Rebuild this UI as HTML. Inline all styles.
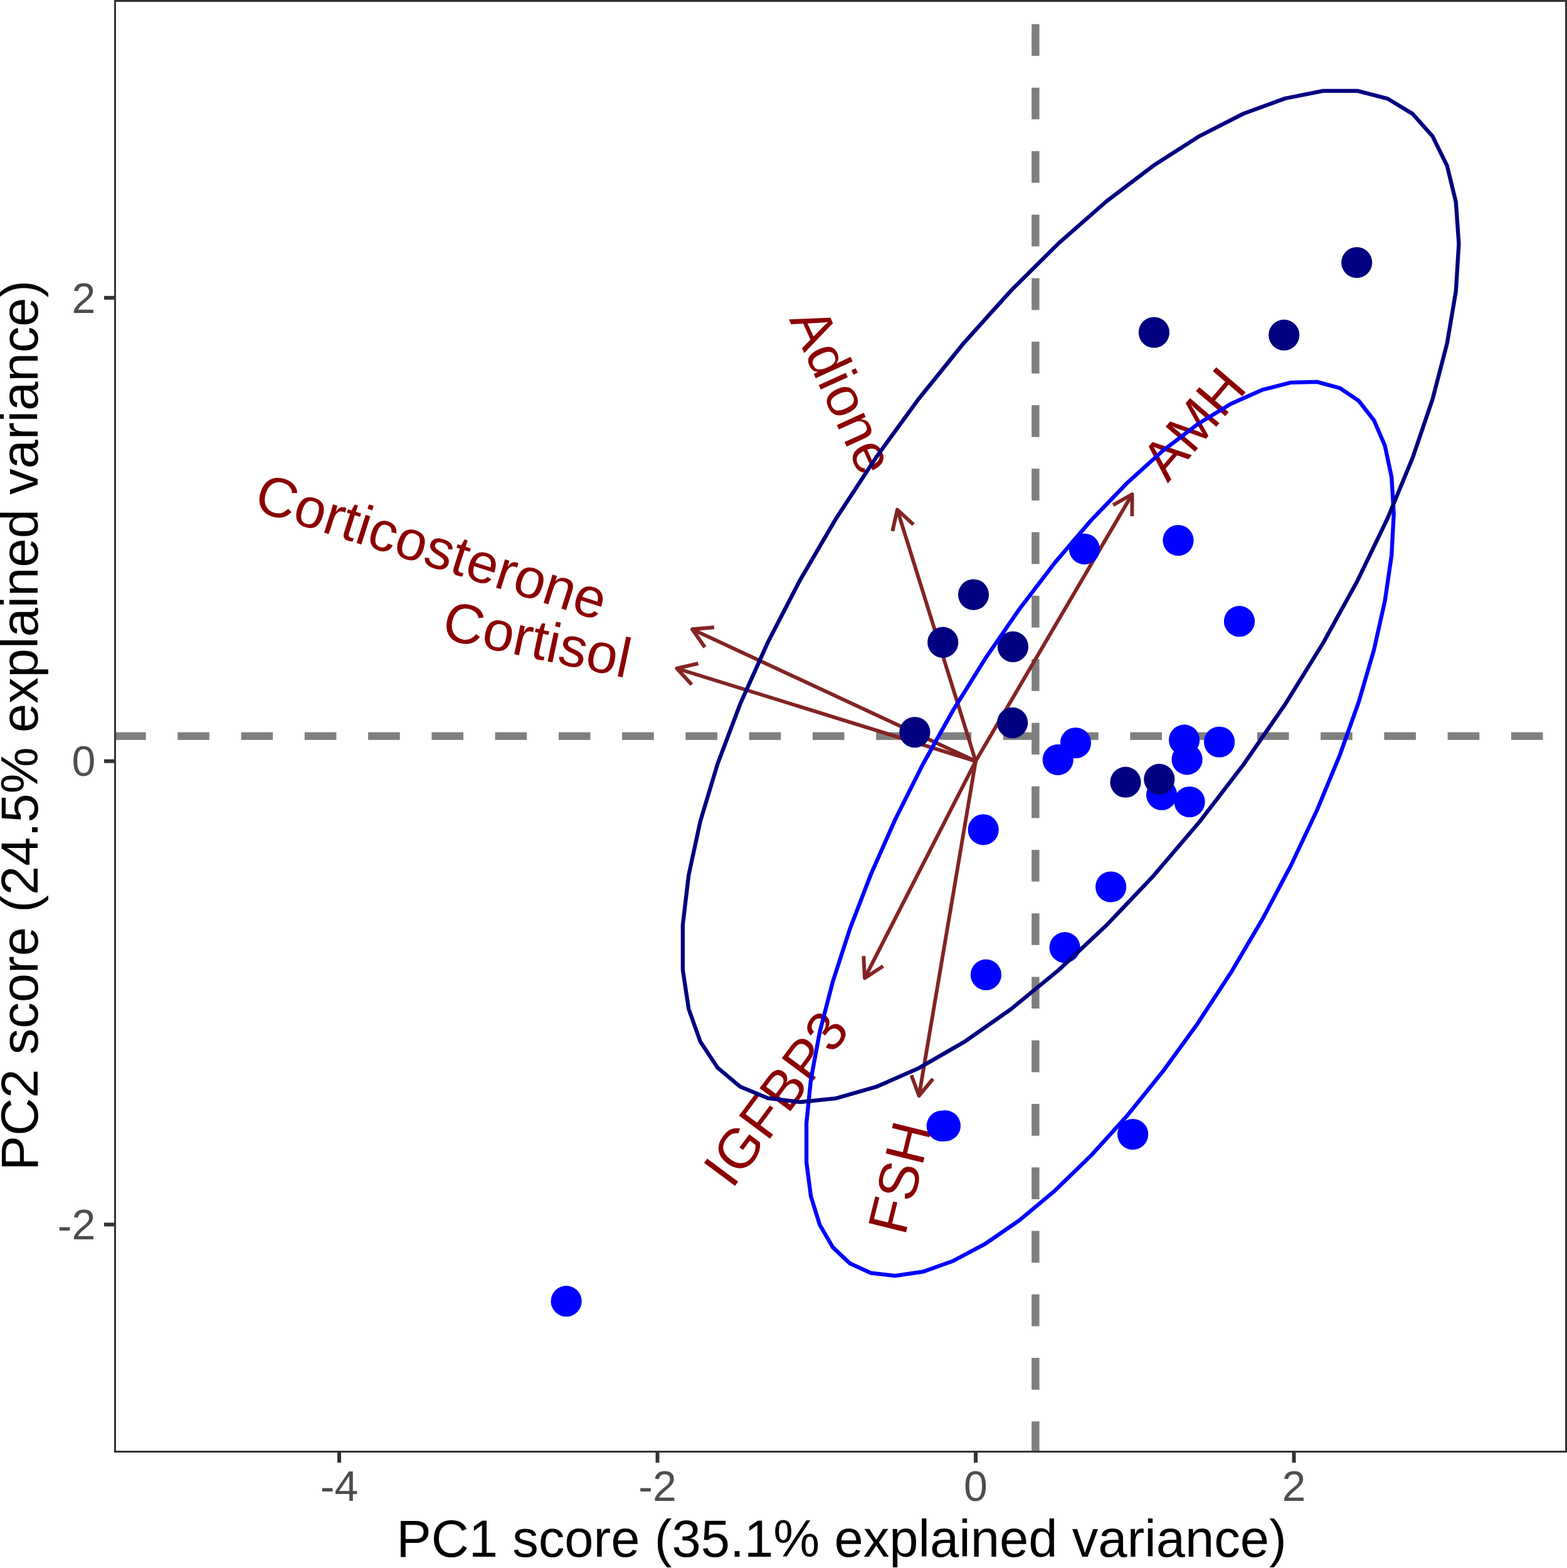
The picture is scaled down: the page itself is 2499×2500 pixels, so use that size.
<!DOCTYPE html><html><head><meta charset="utf-8"><title>PCA biplot</title><style>html,body{margin:0;padding:0;background:#fff;}svg{display:block;}text{font-family:"Liberation Sans",Arial,Helvetica,sans-serif;}</style></head><body>
<svg xmlns="http://www.w3.org/2000/svg" width="2499" height="2500" viewBox="0 0 2499 2500">
<rect width="2499" height="2500" fill="#fff"/>
<defs><clipPath id="pc"><rect x="182" y="0" width="2317" height="2316"/></clipPath></defs>
<g clip-path="url(#pc)">
<path d="M1651.40,2317.00V2266.36M1651.40,2215.73V2165.09M1651.40,2114.46V2063.82M1651.40,2013.19V1962.55M1651.40,1911.92V1861.28M1651.40,1810.65V1760.01M1651.40,1709.38V1658.74M1651.40,1608.11V1557.47M1651.40,1506.84V1456.20M1651.40,1405.57V1354.93M1651.40,1304.30V1253.66M1651.40,1203.03V1152.39M1651.40,1101.76V1051.12M1651.40,1000.49V949.85M1651.40,899.22V848.58M1651.40,797.95V747.31M1651.40,696.68V646.04M1651.40,595.41V544.77M1651.40,494.14V443.50M1651.40,392.87V342.23M1651.40,291.60V240.96M1651.40,190.33V139.69M1651.40,89.06V38.42" stroke="#7f7f7f" stroke-width="12.4" fill="none"/>
<path d="M182.00,1173.60H232.63M283.27,1173.60H333.90M384.54,1173.60H435.17M485.81,1173.60H536.44M587.08,1173.60H637.71M688.35,1173.60H738.98M789.62,1173.60H840.25M890.89,1173.60H941.52M992.16,1173.60H1042.79M1093.43,1173.60H1144.06M1194.70,1173.60H1245.33M1295.97,1173.60H1346.60M1397.24,1173.60H1447.87M1498.51,1173.60H1549.14M1599.78,1173.60H1650.41M1701.05,1173.60H1751.68M1802.32,1173.60H1852.95M1903.59,1173.60H1954.22M2004.86,1173.60H2055.49M2106.13,1173.60H2156.77M2207.40,1173.60H2258.04M2308.67,1173.60H2359.31M2409.94,1173.60H2460.58" stroke="#7f7f7f" stroke-width="12.4" fill="none"/>
<g stroke="#832424" stroke-width="5.9" fill="none" stroke-linejoin="round" stroke-linecap="butt">
<line x1="1556.00" y1="1213.60" x2="1431.00" y2="812.60"/>
<polyline points="1423.31,846.75 1431.00,812.60 1456.73,836.33"/>
<line x1="1556.00" y1="1213.60" x2="1805.60" y2="788.00"/>
<polyline points="1775.17,805.29 1805.60,788.00 1805.36,823.00"/>
<line x1="1556.00" y1="1213.60" x2="1104.00" y2="1003.30"/>
<polyline points="1124.10,1031.95 1104.00,1003.30 1138.86,1000.22"/>
<line x1="1556.00" y1="1213.60" x2="1079.40" y2="1065.70"/>
<polyline points="1103.16,1091.40 1079.40,1065.70 1113.54,1057.97"/>
<line x1="1556.00" y1="1213.60" x2="1379.00" y2="1559.40"/>
<polyline points="1408.39,1540.39 1379.00,1559.40 1377.23,1524.44"/>
<line x1="1556.00" y1="1213.60" x2="1465.60" y2="1747.00"/>
<polyline points="1487.92,1720.04 1465.60,1747.00 1453.41,1714.19"/>
</g>
<g fill="#8B0000" font-size="89.4">
<text transform="translate(1431.00,812.60) rotate(65.592)" x="-347.96" y="32.01">Adione</text>
<text transform="translate(1805.60,788.00) rotate(-49.511)" x="49.67" y="32.01">AMH</text>
<text transform="translate(1104.00,1003.30) rotate(17.724)" x="-726.70" y="32.01">Corticosterone</text>
<text transform="translate(1079.40,1065.70) rotate(12.034)" x="-378.79" y="32.01">Cortisol</text>
<text transform="translate(1379.00,1559.40) rotate(-53.309)" x="-397.45" y="32.01">IGFBP3</text>
<text transform="translate(1465.60,1747.00) rotate(-76.141)" x="-223.50" y="32.01">FSH</text>
</g>
<g fill="#0000FF">
<circle cx="1729.4" cy="875.3" r="24.6"/>
<circle cx="1879.0" cy="861.6" r="24.6"/>
<circle cx="1976.5" cy="990.7" r="24.6"/>
<circle cx="1715.4" cy="1184.5" r="24.6"/>
<circle cx="1687.2" cy="1211.3" r="24.6"/>
<circle cx="1888.6" cy="1179.9" r="24.6"/>
<circle cx="1944.6" cy="1183.0" r="24.6"/>
<circle cx="1893.1" cy="1210.8" r="24.6"/>
<circle cx="1852.6" cy="1267.2" r="24.6"/>
<circle cx="1897.1" cy="1278.5" r="24.6"/>
<circle cx="1568.2" cy="1322.8" r="24.6"/>
<circle cx="1771.6" cy="1414.0" r="24.6"/>
<circle cx="1698.1" cy="1510.7" r="24.6"/>
<circle cx="1572.4" cy="1554.2" r="24.6"/>
<circle cx="1502.2" cy="1795.3" r="24.6"/>
<circle cx="1507.4" cy="1794.9" r="24.6"/>
<circle cx="1806.6" cy="1808.5" r="24.6"/>
<circle cx="903.1" cy="2074.7" r="24.6"/>
</g><g fill="#000080">
<circle cx="2163.7" cy="418.6" r="24.6"/>
<circle cx="1840.4" cy="530.0" r="24.6"/>
<circle cx="2047.7" cy="534.2" r="24.6"/>
<circle cx="1552.5" cy="948.1" r="24.6"/>
<circle cx="1503.7" cy="1024.2" r="24.6"/>
<circle cx="1615.4" cy="1031.2" r="24.6"/>
<circle cx="1458.9" cy="1167.5" r="24.6"/>
<circle cx="1614.6" cy="1152.4" r="24.6"/>
<circle cx="1795.0" cy="1247.2" r="24.6"/>
<circle cx="1848.8" cy="1242.4" r="24.6"/>
</g>
<path d="M2222.80,819.20 L2219.25,760.75 L2208.64,710.78 L2191.14,670.07 L2167.02,639.23 L2136.63,618.72 L2100.45,608.86 L2059.01,609.79 L2012.95,621.51 L1962.96,643.83 L1909.81,676.41 L1854.29,718.76 L1797.26,770.25 L1739.56,830.08 L1682.09,897.35 L1625.71,971.05 L1571.27,1050.05 L1519.60,1133.16 L1471.48,1219.12 L1427.65,1306.62 L1388.77,1394.33 L1355.42,1480.94 L1328.11,1565.12 L1307.26,1645.61 L1293.18,1721.17 L1286.09,1790.66 L1286.09,1853.04 L1293.18,1907.35 L1307.26,1952.77 L1328.11,1988.61 L1355.42,2014.34 L1388.77,2029.55 L1427.65,2034.03 L1471.48,2027.69 L1519.60,2010.64 L1571.27,1983.14 L1625.71,1945.60 L1682.09,1898.59 L1739.56,1842.83 L1797.26,1779.15 L1854.29,1708.53 L1909.81,1632.04 L1962.96,1550.83 L2012.95,1466.14 L2059.01,1379.24 L2100.45,1291.47 L2136.63,1204.14 L2167.02,1118.58 L2191.14,1036.09 L2208.64,957.93 L2219.25,885.26 L2222.80,819.20" stroke="#0000FF" stroke-width="6.3" fill="none" stroke-linejoin="round"/>
<path d="M2326.50,388.91 L2321.81,321.94 L2307.79,264.48 L2284.67,217.43 L2252.80,181.48 L2212.65,157.18 L2164.84,144.91 L2110.09,144.84 L2049.23,156.98 L1983.19,181.15 L1912.96,216.97 L1839.61,263.91 L1764.25,321.25 L1688.03,388.13 L1612.09,463.53 L1537.59,546.30 L1465.67,635.20 L1397.40,728.87 L1333.83,825.90 L1275.91,924.81 L1224.54,1024.10 L1180.48,1122.28 L1144.40,1217.85 L1116.85,1309.36 L1098.25,1395.42 L1088.87,1474.74 L1088.87,1546.11 L1098.25,1608.44 L1116.85,1660.79 L1144.40,1702.37 L1180.48,1732.55 L1224.54,1750.87 L1275.91,1757.05 L1333.83,1751.01 L1397.40,1732.82 L1465.67,1702.77 L1537.59,1661.31 L1612.09,1609.07 L1688.03,1546.84 L1764.25,1475.57 L1839.61,1396.33 L1912.96,1310.33 L1983.19,1218.88 L2049.23,1123.35 L2110.09,1025.19 L2164.84,925.90 L2212.65,826.97 L2252.80,729.92 L2284.67,636.20 L2307.79,547.24 L2321.81,464.40 L2326.50,388.91" stroke="#000080" stroke-width="6.3" fill="none" stroke-linejoin="round"/>
<rect x="182" y="0" width="2317" height="2316" fill="none" stroke="#333333" stroke-width="6.0"/>
</g>
<g stroke="#333333" stroke-width="6.0">
<line x1="541.00" y1="2316" x2="541.00" y2="2332.0"/>
<line x1="1048.50" y1="2316" x2="1048.50" y2="2332.0"/>
<line x1="1556.00" y1="2316" x2="1556.00" y2="2332.0"/>
<line x1="2063.50" y1="2316" x2="2063.50" y2="2332.0"/>
<line x1="166.0" y1="474.80" x2="182" y2="474.80"/>
<line x1="166.0" y1="1213.60" x2="182" y2="1213.60"/>
<line x1="166.0" y1="1952.40" x2="182" y2="1952.40"/>
</g>
<g fill="#4D4D4D" font-size="68.0">
<text x="541.00" y="2392.6" text-anchor="middle"><tspan dy="1.5">-</tspan><tspan dy="-1.5">4</tspan></text>
<text x="1048.50" y="2392.6" text-anchor="middle"><tspan dy="1.5">-</tspan><tspan dy="-1.5">2</tspan></text>
<text x="1556.00" y="2392.6" text-anchor="middle">0</text>
<text x="2063.50" y="2392.6" text-anchor="middle">2</text>
<text x="152.3" y="498.53" text-anchor="end">2</text>
<text x="152.3" y="1237.33" text-anchor="end">0</text>
<text x="152.3" y="1976.13" text-anchor="end"><tspan dy="1.5">-</tspan><tspan dy="-1.5">2</tspan></text>
</g>
<text x="1342.00" y="2482.4" font-size="83.2" fill="#000" text-anchor="middle">PC1 score (35.1% explained variance)</text>
<text transform="translate(60,1156.50) rotate(-90)" x="0" y="0" font-size="83.2" fill="#000" text-anchor="middle">PC2 score (24.5% explained variance)</text>
</svg></body></html>
